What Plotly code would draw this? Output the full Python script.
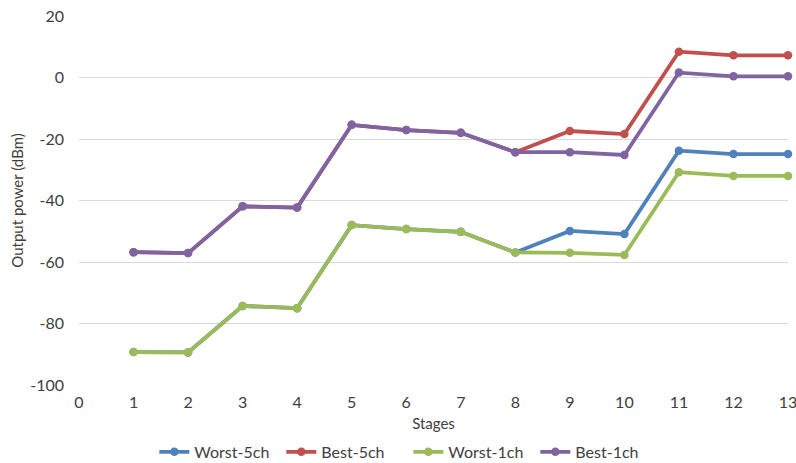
import plotly.graph_objects as go

stages = [1, 2, 3, 4, 5, 6, 7, 8, 9, 10, 11, 12, 13]
worst_5ch = [-89.3, -89.4, -74.3, -75.0, -48.0, -49.3, -50.2, -56.9, -49.9, -50.9, -23.8, -24.9, -24.9]
best_5ch = [-56.8, -57.1, -41.9, -42.3, -15.4, -17.1, -18.0, -24.3, -17.4, -18.4, 8.4, 7.2, 7.2]
worst_1ch = [-89.3, -89.4, -74.3, -75.0, -48.0, -49.3, -50.2, -56.9, -57.0, -57.7, -30.8, -32.0, -32.0]
best_1ch = [-56.8, -57.1, -41.9, -42.3, -15.4, -17.1, -18.0, -24.3, -24.3, -25.2, 1.6, 0.4, 0.4]

x_ticks = list(range(0, 14))
y_ticks = [-100, -80, -60, -40, -20, 0, 20]
y_tick_labels = ["-100", "-80", "-60", "-40", "-20", "0", "20"]

series = [
    ("Worst-5ch", worst_5ch, "#4F81BD"),
    ("Best-5ch", best_5ch, "#C0504D"),
    ("Worst-1ch", worst_1ch, "#9BBB59"),
    ("Best-1ch", best_1ch, "#8064A2"),
]

fig = go.Figure()
for name, vals, color in series:
    fig.add_trace(go.Scatter(
        x=stages, y=vals, name=name, mode="lines+markers",
        line=dict(color=color, width=3.75),
        marker=dict(color=color, size=8.5),
        cliponaxis=False,
    ))

txt = "#404040"
fam = "Lato, Open Sans, sans-serif"

fig.update_layout(
    width=796, height=463,
    margin=dict(l=79, r=8, t=16, b=78, autoexpand=False),
    paper_bgcolor="white", plot_bgcolor="white",
    font=dict(family=fam, size=15, color=txt),
    showlegend=True,
    legend=dict(orientation="h", x=0.513, xref="container", xanchor="center",
                y=0.024, yref="container", yanchor="middle",
                font=dict(size=16, color=txt), itemwidth=30,
                entrywidth=82, entrywidthmode="pixels",
                tracegroupgap=0),
    xaxis=dict(range=[0, 13], tickvals=x_ticks,
               showgrid=False, zeroline=False, showline=False, ticks="",
               automargin=False, ticklabelstandoff=6, ticklabeloverflow="allow",
               title=dict(text="Stages", standoff=8, font=dict(size=15, color=txt)),
               tickfont=dict(size=16, color=txt)),
    yaxis=dict(range=[-100, 20], tickvals=y_ticks, ticktext=y_tick_labels,
               showgrid=True, gridcolor="#D9D9D9", gridwidth=1,
               zeroline=False, showline=False, ticks="",
               automargin=False, ticklabelstandoff=14, ticklabeloverflow="allow",
               title=dict(text="Output power (dBm)", standoff=2, font=dict(size=15, color=txt)),
               tickfont=dict(size=16, color=txt)),
)

fig.write_html("out.html", config={"displayModeBar": False},
               post_script="document.body.style.margin='0';document.body.style.overflow='hidden';")
